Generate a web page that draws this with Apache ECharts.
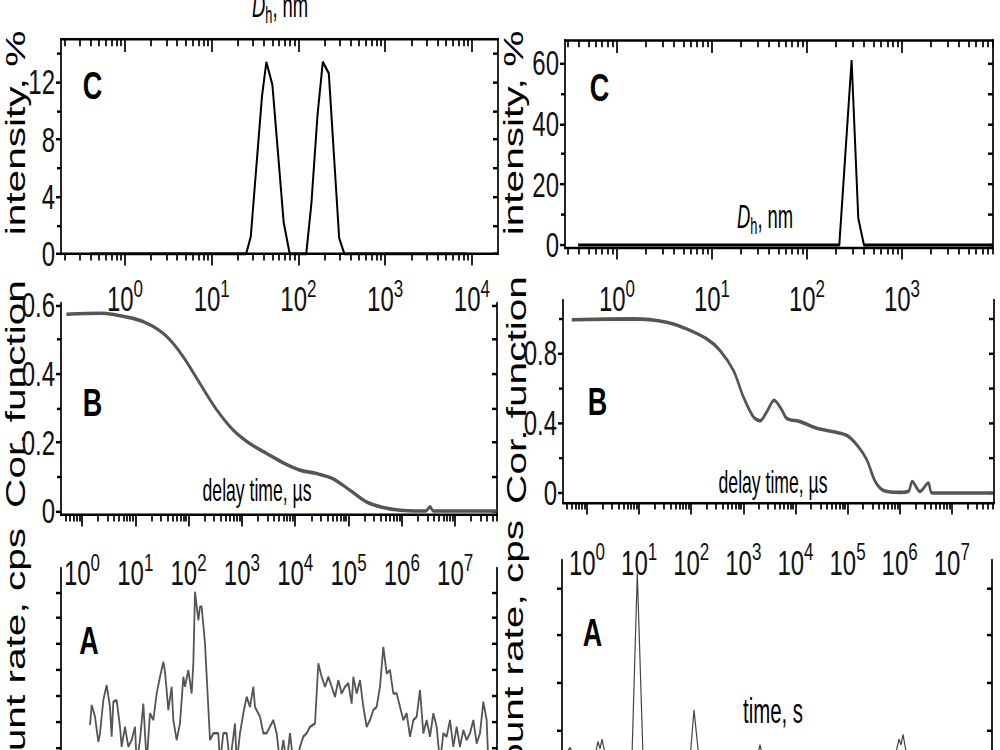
<!DOCTYPE html>
<html>
<head>
<meta charset="utf-8">
<script src="https://cdn.jsdelivr.net/npm/echarts@6/dist/echarts.min.js"></script>
<style>
  html, body { margin: 0; padding: 0; width: 1000px; height: 750px; overflow: hidden; background: #fff; }
  /* the source figure is stretched vertically, so draw flat and stretch the whole chart */
  #chart { width: 1000px; height: 600px; transform: scaleY(1.45); transform-origin: 0 0; }
</style>
</head>
<body>
<div id="chart"></div>
<script>
const FONT = '"Liberation Sans", Arial, Helvetica, sans-serif';
const STRETCH = 1.45;
const u = (y) => y / STRETCH;

// ---- C: size distributions (D_h in nm, intensity in %) ----
const cLeftSize = [0.4, 24.9, 28.2, 38, 42.7, 50.1, 67.6, 79.4, 123, 141, 166, 191, 224, 295, 339, 8710];
const cLeftIntensity = [0, 0, 1.2, 11.0, 13.4, 11.8, 2.2, 0, 0, 3.5, 9.7, 13.4, 12.6, 1.1, 0, 0];
const cRightSize = [0.39, 219, 295, 347, 398, 9000];
const cRightIntensity = [0, 0, 61, 8.8, 0, 0];

// ---- B: correlation functions (delay time in us) ----
const bLeftDelay = [0.51, 2.19, 9.1, 19.1, 38.9, 79.4, 162, 339, 692, 1410, 2950, 6030, 12300, 25100,
  51300, 107000, 219000, 447000, 933000, 2190000, 2820000, 3390000, 3890000, 6.0e7];
const bLeftCorr = [0.573, 0.576, 0.561, 0.542, 0.508, 0.449, 0.372, 0.294, 0.235, 0.196, 0.167, 0.140, 0.119, 0.109,
  0.094, 0.060, 0.026, 0.010, 0.002, 0.0, 0.0, 0.012, 0.0, 0.0];
const bRightDelay = [0.51, 7.8, 34, 81, 200, 355, 646, 1000, 1550, 2090, 2820, 3890, 5500, 6760, 12300, 25700,
  53700, 95500, 151000, 234000, 339000, 490000, 1020000, 1480000, 1740000, 2450000, 3550000, 4170000, 6.3e7];
const bRightCorr = [0.99, 0.995, 0.976, 0.938, 0.88, 0.815, 0.70, 0.55, 0.436, 0.413, 0.464, 0.53, 0.474, 0.427, 0.408, 0.37,
  0.35, 0.33, 0.275, 0.19, 0.066, 0.015, 0.004, 0.01, 0.066, 0.009, 0.057, 0.0, 0.0];

// ---- A: count rate traces ----
const aLeftTime = [27, 27.5, 28.5, 29.5, 30, 31, 32, 33, 33.5, 34, 35, 36, 36.5, 37.5, 38.5, 39.5, 40.5, 41, 42, 43,
  44, 45, 46, 47, 48, 49, 49.5, 50.5, 51.5, 52, 53, 54, 55, 55.5, 56.5, 57.5, 58, 58.5, 59.5, 60,
  60.5, 61.5, 63, 64, 65.5, 66, 67, 68, 69, 70.5, 71, 72, 73, 74, 75, 76, 76.5, 78, 79, 80,
  81, 82, 83, 84, 85, 86, 87, 88, 89, 90, 91, 92, 93, 94.5, 95.5, 96.5, 97.5, 98.5, 99.5, 100.5,
  101.5, 102.5, 103.5, 104.5, 105.5, 106, 107, 108, 109, 110, 111, 112, 113, 114, 115, 116, 117, 118, 119, 120,
  121, 122, 123, 124, 125, 126, 127, 128, 129, 130, 131, 132, 133, 134, 135, 136, 137, 138, 139, 140,
  141, 142, 143, 144, 145, 146, 146.5];
const aLeftRate = [2.86, 3.63, 3.18, 2.21, 2.54, 3.82, 4.40, 3.56, 2.41, 3.76, 3.82, 2.79, 2.02, 2.79, 2.02, 2.28, 2.79, 1.4, 2.28, 3.69,
  1.4, 3.31, 3.05, 4.08, 4.72, 5.30, 4.92, 3.44, 4.34, 3.05, 2.28, 2.92, 4.72, 4.34, 4.98, 4.08, 5.24, 8.01, 6.91, 7.43,
  7.43, 6.01, 2.28, 2.54, 2.54, 1.4, 2.54, 2.54, 1.4, 2.92, 1.4, 2.54, 3.31, 3.95, 3.56, 4.34, 3.56, 3.18, 2.54, 2.54,
  2.79, 3.05, 2.54, 1.4, 2.28, 1.4, 2.54, 1.4, 1.4, 2.02, 2.41, 2.54, 2.79, 2.92, 5.24, 4.72, 4.34, 4.72, 4.34, 3.95,
  4.59, 4.08, 4.34, 4.47, 3.69, 4.72, 4.08, 4.59, 3.56, 2.79, 3.05, 3.44, 3.56, 4.34, 5.88, 4.85, 4.98, 4.08, 4.08, 3.56,
  3.05, 3.31, 2.41, 3.05, 3.18, 4.21, 2.54, 3.05, 2.41, 3.31, 2.79, 1.4, 2.54, 2.41, 3.05, 2.02, 2.79, 2.02, 2.66, 2.28,
  2.54, 3.05, 2.15, 2.54, 3.76, 3.05, 1.4];
const aRightTime = [4, 8, 12, 20, 28, 34, 36, 38, 40, 43, 50, 60, 68, 70, 75.3, 81, 83, 95, 110, 125,
  128.5, 132, 136.5, 145, 160, 175, 190, 196, 198, 200, 215, 230, 250, 270, 290, 310, 325, 334, 337, 339,
  341, 344, 355, 370, 385, 400, 415, 428];
const aRightRate = [0.5, 0.62, 0.45, 0.5, 0.47, 0.55, 0.75, 0.6, 0.8, 0.5, 0.48, 0.52, 0.47, 0.45, 4.31, 0.45, 0.48, 0.5, 0.46, 0.5,
  0.5, 1.42, 0.5, 0.5, 0.48, 0.52, 0.5, 0.5, 0.68, 0.5, 0.47, 0.5, 0.5, 0.48, 0.52, 0.5, 0.5, 0.52, 0.8, 0.68,
  0.9, 0.55, 0.5, 0.48, 0.52, 0.5, 0.49, 0.5];

// ---- tick values ----
const decadesCLeft = [1, 10, 100, 1000, 10000];
const decadesCRight = [1, 10, 100, 1000];
const decadesB = [1, 10, 100, 1000, 10000, 100000, 1000000, 10000000];
const cLeftYLabels = [0, 4, 8, 12];
const cLeftYMinor = [2, 6, 10, 14];
const cRightYLabels = [0, 20, 40, 60];
const cRightYMinor = [10, 30, 50];
const bLeftYLabels = [0, 0.2, 0.4, 0.6];
const bLeftYMinor = [0.1, 0.3, 0.5];
const bRightYLabels = [0, 0.4, 0.8];
const bRightYMinor = [0.2, 0.6, 1.0];
const aLeftYTicks = [1, 2, 3, 4, 5, 6, 7, 8];
const aRightYTicks = [1, 2, 3, 4];

function logMinors(min, max) {
  const out = [];
  for (let k = Math.floor(Math.log10(min)); k <= Math.ceil(Math.log10(max)); k++) {
    for (let m = 2; m <= 9; m++) {
      const v = m * Math.pow(10, k);
      if (v > min && v < max) out.push(v);
    }
  }
  return out;
}

const stroke = { color: '#000', width: 1.7 };
const decadeRich = {
  a: { fontSize: 24, fontFamily: FONT, color: '#111', lineHeight: 32 },
  b: { fontSize: 17, fontFamily: FONT, color: '#111', verticalAlign: 'top', lineHeight: 16 },
};
function decadeLabel(v) {
  return '{a|10}{b|' + Math.round(Math.log10(v)) + '}';
}

const grid = [], xAxis = [], yAxis = [], series = [];

function addPanel(p) {
  const gi = grid.length;
  grid.push({ left: p.x0, top: u(p.y0), width: p.x1 - p.x0, height: u(p.y1) - u(p.y0) });
  const xi = xAxis.length, yi = yAxis.length;
  const xBase = { gridIndex: gi, type: p.xType, min: p.xMin, max: p.xMax, splitLine: { show: false } };
  const yBase = { gridIndex: gi, type: 'value', min: p.yMin, max: p.yMax, splitLine: { show: false } };

  if (p.xMajor) {
    const minors = logMinors(p.xMin, p.xMax);
    xAxis.push(Object.assign({}, xBase, {
      position: 'bottom',
      axisLine: { show: true, onZero: false, lineStyle: stroke },
      axisTick: { show: true, customValues: p.xMajor, length: 8, lineStyle: stroke },
      axisLabel: { show: true, customValues: p.xMajor, margin: p.labelGap, formatter: decadeLabel, rich: decadeRich },
    }));
    xAxis.push(Object.assign({}, xBase, {
      position: 'bottom',
      axisLine: { show: false, onZero: false },
      axisTick: { show: true, customValues: minors, length: 4.5, lineStyle: stroke },
      axisLabel: { show: false },
    }));
    if (p.topBox) {
      xAxis.push(Object.assign({}, xBase, {
        position: 'top',
        axisLine: { show: true, onZero: false, lineStyle: stroke },
        axisTick: { show: true, inside: true, customValues: p.xMajor, length: 9, lineStyle: stroke },
        axisLabel: { show: false },
      }));
      xAxis.push(Object.assign({}, xBase, {
        position: 'top',
        axisLine: { show: false, onZero: false },
        axisTick: { show: true, inside: true, customValues: minors, length: 5, lineStyle: stroke },
        axisLabel: { show: false },
      }));
    }
  } else {
    xAxis.push(Object.assign({}, xBase, { show: false }));
  }

  yAxis.push(Object.assign({}, yBase, {
    position: 'left',
    axisLine: { show: true, onZero: false, lineStyle: stroke },
    axisTick: { show: true, customValues: p.yMajor, length: 5, lineStyle: stroke },
    axisLabel: p.yLabels
      ? { show: true, customValues: p.yLabels, margin: 6, fontSize: 24, fontFamily: FONT, color: '#111' }
      : { show: false },
  }));
  if (p.yMinor) {
    yAxis.push(Object.assign({}, yBase, {
      position: 'left',
      axisLine: { show: false, onZero: false },
      axisTick: { show: true, customValues: p.yMinor, length: 4, lineStyle: stroke },
      axisLabel: { show: false },
    }));
  }
  yAxis.push(Object.assign({}, yBase, {
    position: 'right',
    axisLine: { show: true, onZero: false, lineStyle: stroke },
    axisTick: { show: true, inside: true, customValues: p.yMajor.concat(p.yMinor || []), length: 5, lineStyle: stroke },
    axisLabel: { show: false },
  }));

  series.push({
    type: 'line',
    xAxisIndex: xi,
    yAxisIndex: yi,
    data: p.xs.map((x, i) => [x, p.ys[i]]),
    showSymbol: false,
    smooth: p.smooth || false,
    lineStyle: { color: p.color, width: p.width },
    animation: false,
  });
}

// C, left
addPanel({ x0: 61, x1: 498, y0: 39, y1: 254, xType: 'log', xMin: 0.183, xMax: 20000, xMajor: decadesCLeft,
  labelGap: 15, topBox: true, yMin: 0, yMax: 15, yMajor: cLeftYLabels, yLabels: cLeftYLabels, yMinor: cLeftYMinor,
  xs: cLeftSize, ys: cLeftIntensity, color: '#000', width: 2 });
// C, right
addPanel({ x0: 565, x1: 993, y0: 40, y1: 248, xType: 'log', xMin: 0.284, xMax: 9080, xMajor: decadesCRight,
  labelGap: 19, topBox: true, yMin: -0.99, yMax: 67.6, yMajor: cRightYLabels, yLabels: cRightYLabels, yMinor: cRightYMinor,
  xs: cRightSize, ys: cRightIntensity, color: '#000', width: 2 });
// B, left
addPanel({ x0: 61, x1: 497, y0: 303, y1: 515, xType: 'log', xMin: 0.404, xMax: 6.1e7, xMajor: decadesB,
  labelGap: 24, yMin: -0.0117, yMax: 0.6058, yMajor: bLeftYLabels, yLabels: bLeftYLabels, yMinor: bLeftYMinor,
  xs: bLeftDelay, ys: bLeftCorr, color: '#555', width: 2.5, smooth: 0.3 });
// B, right
addPanel({ x0: 563, x1: 994, y0: 300, y1: 503, xType: 'log', xMin: 0.346, xMax: 6.46e7, xMajor: decadesB,
  labelGap: 25, yMin: -0.057, yMax: 1.103, yMajor: bRightYLabels, yLabels: bRightYLabels, yMinor: bRightYMinor,
  xs: bRightDelay, ys: bRightCorr, color: '#555', width: 2.5, smooth: 0.3 });
// A, left
addPanel({ x0: 61, x1: 497, y0: 568, y1: 799, xType: 'value', xMin: 18.3, xMax: 149.1,
  yMin: 0, yMax: 8.93, yMajor: aLeftYTicks, xs: aLeftTime, ys: aLeftRate, color: '#555', width: 1.8 });
// A, right
addPanel({ x0: 562, x1: 992, y0: 560, y1: 777, xType: 'value', xMin: 0, xMax: 430,
  yMin: 0, yMax: 4.59, yMajor: aRightYTicks, xs: aRightTime, ys: aRightRate, color: '#444', width: 1.2 });

const graphic = [];
function text(str, x, y, size, opts) {
  const o = opts || {};
  graphic.push({
    type: 'text',
    x: x,
    y: u(y),
    rotation: o.rot || 0,
    scaleX: o.narrow || 1,
    style: {
      text: str,
      fontSize: size,
      fontFamily: FONT,
      fontWeight: o.bold ? 'bold' : 'normal',
      fill: '#000',
      align: o.align || 'center',
      verticalAlign: 'middle',
      rich: o.rich,
    },
  });
}
const dhRich = {
  d: { fontSize: 23, fontFamily: FONT, fontStyle: 'italic', fill: '#000' },
  h: { fontSize: 16, fontFamily: FONT, fill: '#000', verticalAlign: 'bottom', padding: [12, 0, 0, 0] },
  n: { fontSize: 23, fontFamily: FONT, fill: '#000' },
};

// panel letters
text('C', 92.5, 86, 27, { bold: true });
text('B', 92.5, 403, 27, { bold: true });
text('A', 89, 641, 27, { bold: true });
text('C', 599.5, 87.5, 27, { bold: true });
text('B', 597.5, 401.5, 27, { bold: true });
text('A', 592.5, 632.5, 27, { bold: true });

// axis titles, reading upwards
const up = Math.PI / 2;
text('intensity, %', 15, 133, 28, { rot: up });
text('intensity, %', 513, 133, 28, { rot: up });
text('Cor. function', 15, 394, 28, { rot: up });
text('Cor. function', 516, 390, 28, { rot: up });
text('count rate, cps', 15, 661, 28, { rot: up });
text('count rate, cps', 513, 653, 28, { rot: up });

// condensed inline captions
text('{d|D}{h|h}{n|, nm}', 252, 6, 23, { align: 'left', rich: dhRich, narrow: 0.8 });
text('{d|D}{h|h}{n|, nm}', 737, 217, 23, { align: 'left', rich: dhRich, narrow: 0.8 });
text('delay time, \u00b5s', 257, 490, 22, { narrow: 0.8 });
text('delay time, \u00b5s', 773, 482, 22, { narrow: 0.8 });
text('time, s', 773, 711, 24, { narrow: 0.85 });

const chart = echarts.init(document.getElementById('chart'), null, { renderer: 'svg' });
chart.setOption({
  animation: false,
  backgroundColor: '#fff',
  textStyle: { fontFamily: FONT },
  grid: grid,
  xAxis: xAxis,
  yAxis: yAxis,
  series: series,
  graphic: graphic,
});
</script>
</body>
</html>
